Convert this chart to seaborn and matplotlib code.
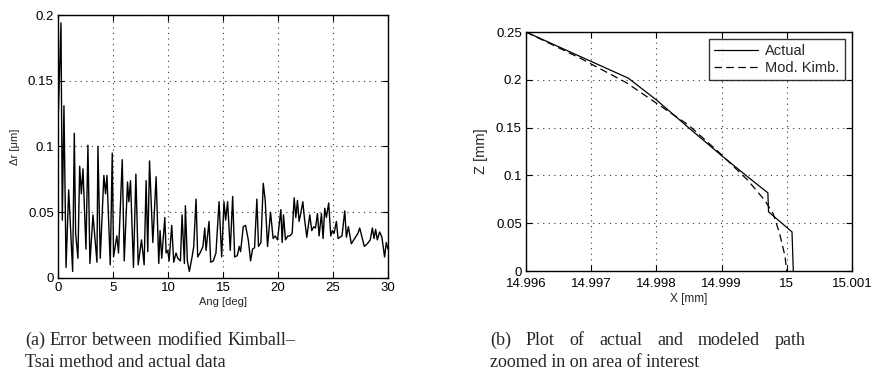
import matplotlib
matplotlib.use("Agg")
import matplotlib.pyplot as plt
import seaborn as sns
import pandas as pd

# ---- (a) error of the modified Kimball-Tsai fit vs. angle ----
ang_deg = [0.0, 0.27, 0.39, 0.54, 0.73, 0.97, 1.33, 1.48, 1.60, 1.81, 1.97, 2.12, 2.27,
           2.54, 2.72, 2.90, 3.18, 3.54, 3.63, 3.84, 4.17, 4.32, 4.45, 4.75, 4.93, 5.05,
           5.35, 5.50, 5.84, 6.02, 6.32, 6.44, 6.59, 6.86, 7.08, 7.29, 7.59, 7.83, 8.01,
           8.16, 8.32, 8.62, 8.92, 9.16, 9.28, 9.43, 9.71, 9.83, 9.98, 10.10, 10.34, 10.52,
           10.73, 10.89, 11.13, 11.28, 11.49, 11.58, 11.76, 11.94, 12.19, 12.34, 12.55,
           12.70, 12.91, 13.18, 13.34, 13.46, 13.73, 13.88, 14.12, 14.36, 14.64, 14.88,
           15.09, 15.24, 15.42, 15.66, 15.88, 16.06, 16.30, 16.48, 16.60, 16.84, 17.05,
           17.30, 17.51, 17.69, 17.87, 18.08, 18.23, 18.45, 18.66, 18.84, 19.05, 19.32,
           19.56, 19.74, 19.96, 20.26, 20.38, 20.50, 20.68, 20.90, 21.08, 21.29, 21.47,
           21.62, 21.77, 21.92, 22.07, 22.26, 22.41, 22.62, 22.89, 23.07, 23.25, 23.41,
           23.59, 23.74, 23.95, 24.10, 24.25, 24.40, 24.61, 24.80, 24.95, 25.10, 25.31,
           25.46, 25.82, 26.07, 26.22, 26.40, 26.67, 26.97, 27.27, 27.43, 27.61, 27.85,
           28.12, 28.39, 28.58, 28.73, 28.88, 29.03, 29.24, 29.45, 29.69, 29.85, 30.0]
dr_um = [0.117, 0.194, 0.044, 0.131, 0.008, 0.067, 0.005, 0.110, 0.034, 0.015, 0.085,
         0.064, 0.083, 0.022, 0.101, 0.011, 0.048, 0.012, 0.100, 0.015, 0.078, 0.064,
         0.078, 0.010, 0.095, 0.016, 0.032, 0.019, 0.090, 0.013, 0.073, 0.058, 0.074,
         0.008, 0.079, 0.010, 0.029, 0.010, 0.074, 0.020, 0.089, 0.027, 0.077, 0.011,
         0.036, 0.015, 0.046, 0.019, 0.021, 0.013, 0.040, 0.012, 0.019, 0.015, 0.013,
         0.048, 0.011, 0.055, 0.013, 0.005, 0.016, 0.024, 0.060, 0.016, 0.019, 0.024,
         0.038, 0.021, 0.043, 0.012, 0.013, 0.019, 0.058, 0.016, 0.058, 0.044, 0.058,
         0.021, 0.062, 0.016, 0.017, 0.024, 0.020, 0.039, 0.040, 0.029, 0.013, 0.022,
         0.023, 0.060, 0.024, 0.027, 0.072, 0.059, 0.024, 0.050, 0.030, 0.032, 0.029,
         0.052, 0.027, 0.048, 0.029, 0.032, 0.032, 0.034, 0.061, 0.046, 0.059, 0.043,
         0.049, 0.058, 0.045, 0.031, 0.048, 0.036, 0.039, 0.038, 0.049, 0.032, 0.049,
         0.030, 0.053, 0.046, 0.057, 0.032, 0.036, 0.034, 0.043, 0.030, 0.032, 0.051,
         0.031, 0.039, 0.026, 0.030, 0.034, 0.038, 0.032, 0.024, 0.026, 0.029, 0.038,
         0.030, 0.037, 0.029, 0.035, 0.031, 0.016, 0.027, 0.022]

# ---- (b) tool path near the area of interest ----
actual_x = [14.996, 14.99757, 14.998, 14.99851, 14.99902, 14.99943, 14.99971,
            14.99972, 15.00008, 15.0001]
actual_z = [0.25, 0.2017, 0.179, 0.149, 0.1196, 0.0969, 0.0818, 0.0619, 0.0409, 0.0]
kimb_x = [14.996, 14.99683, 14.99754, 14.99797, 14.99849, 14.99895, 14.99940,
          14.99966, 14.99979, 14.99989, 14.99997, 15.0]
kimb_z = [0.25, 0.2227, 0.197, 0.177, 0.1528, 0.1248, 0.0951, 0.0741, 0.0601,
          0.0392, 0.0164, 0.0]

left_xticks = [0, 5, 10, 15, 20, 25, 30]
left_yticks = [0, 0.05, 0.1, 0.15, 0.2]
left_yticklabels = ["0", "0.05", "0.1", "0.15", "0.2"]
right_xticks = [14.996, 14.997, 14.998, 14.999, 15.0, 15.001]
right_xticklabels = ["14.996", "14.997", "14.998", "14.999", "15", "15.001"]
right_yticks = [0, 0.05, 0.1, 0.15, 0.2, 0.25]
right_yticklabels = ["0", "0.05", "0.1", "0.15", "0.2", "0.25"]

sns.set_theme(style="white")
plt.rcParams["font.family"] = ["Liberation Sans", "DejaVu Sans"]
plt.rcParams["mathtext.default"] = "regular"

W, H = 875, 383
fig = plt.figure(figsize=(W / 100, H / 100), dpi=100)
ax1 = fig.add_axes([0.0663, 0.2742, 0.3771, 0.6866])
ax2 = fig.add_axes([0.6011, 0.2924, 0.3726, 0.6240])

df_a = pd.DataFrame({"ang": ang_deg, "dr": dr_um})
sns.lineplot(data=df_a, x="ang", y="dr", ax=ax1, color="black", lw=1.0,
             sort=False, estimator=None)

df_act = pd.DataFrame({"x": actual_x, "z": actual_z})
df_kim = pd.DataFrame({"x": kimb_x, "z": kimb_z})
sns.lineplot(data=df_act, x="x", y="z", ax=ax2, color="black", lw=0.9,
             sort=False, estimator=None, label="Actual")
sns.lineplot(data=df_kim, x="x", y="z", ax=ax2, color="black", lw=0.9,
             sort=False, estimator=None, label="Mod. Kimb.")
ax2.lines[-1].set_dashes([6, 3.5])


def matlab_axes(ax, fs, xpad=3):
    for s in ax.spines.values():
        s.set_visible(True)
        s.set_color("black")
        s.set_linewidth(1.0)
    ax.grid(True, linestyle=(0, (1, 4)), color="#333333", lw=0.8)
    ax.tick_params(direction="in", length=4, width=0.8, top=True, right=True,
                   bottom=True, left=True, labelsize=fs, colors="black", pad=3)
    ax.tick_params(axis="x", pad=xpad)


ax1.set_xlim(0, 30)
ax1.set_ylim(0, 0.2)
ax1.set_xticks(left_xticks)
ax1.set_xticklabels([str(t) for t in left_xticks])
ax1.set_yticks(left_yticks)
ax1.set_yticklabels(left_yticklabels)
matlab_axes(ax1, 9.5)
ax1.set_xlabel("Ang [deg]", fontsize=8, labelpad=2)
ax1.set_ylabel("Δr [μm]", fontsize=8, labelpad=6)

ax2.set_xlim(14.996, 15.001)
ax2.set_ylim(0, 0.25)
ax2.set_xticks(right_xticks)
ax2.set_xticklabels(right_xticklabels)
ax2.set_yticks(right_yticks)
ax2.set_yticklabels(right_yticklabels)
matlab_axes(ax2, 9.5, xpad=5)
ax2.set_xlabel("X [mm]", fontsize=8.5, labelpad=2)
ax2.set_ylabel("Z [mm]", fontsize=10.5, labelpad=6)

leg = ax2.legend(loc="upper right", fontsize=10.5, frameon=True, fancybox=False,
                 borderaxespad=0.5, handlelength=3.0, handletextpad=0.5,
                 borderpad=0.35, labelspacing=0.2)
leg.get_frame().set_edgecolor("black")
leg.get_frame().set_linewidth(1.0)

# captions: first line of each is justified out to the given right edge
cap_font = dict(fontsize=13, family=["Liberation Serif", "DejaVu Serif"],
                va="baseline", ha="left")
renderer = fig.canvas.get_renderer()


def justified_line(text, x0, x1, y):
    words = text.split()
    items = [fig.text(0, 1 - y / H, w, **cap_font) for w in words]
    widths = [t.get_window_extent(renderer).width for t in items]
    probe = fig.text(0, 0, "a a", **cap_font)
    space = probe.get_window_extent(renderer).width - \
        2 * fig.text(0, 0, "a", **cap_font).get_window_extent(renderer).width
    for t in fig.texts[-2:]:
        t.remove()
    gap = max(space, (x1 - x0 - sum(widths)) / (len(words) - 1))
    x = x0
    for t, w in zip(items, widths):
        t.set_x(x / W)
        x += w + gap


justified_line("(a) Error between modified Kimball–", 25, 295, 345)
fig.text(25 / W, 1 - 367 / H, "Tsai method and actual data", **cap_font)
justified_line("(b) Plot of actual and modeled path", 490, 806, 345)
fig.text(490 / W, 1 - 367 / H, "zoomed in on area of interest", **cap_font)

fig.savefig("out.png", dpi=100)
